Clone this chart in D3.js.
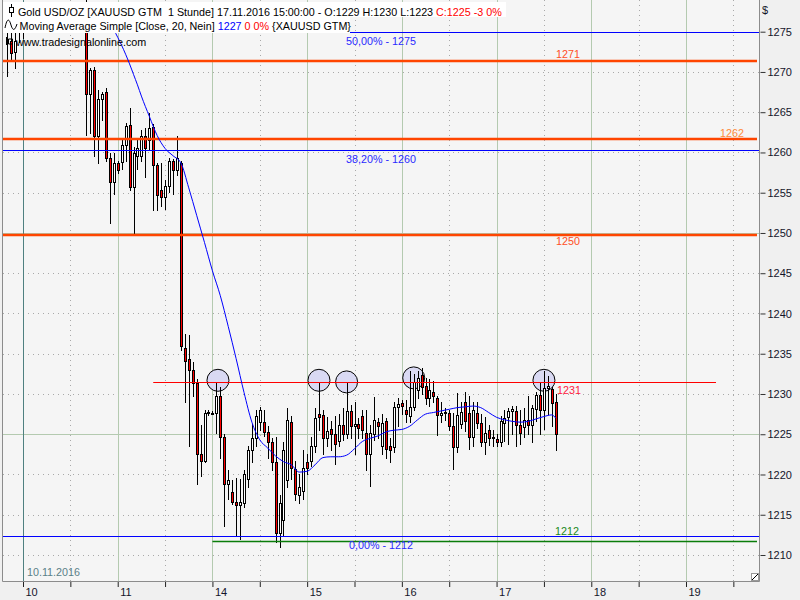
<!DOCTYPE html>
<html><head><meta charset="utf-8">
<script src="https://cdn.jsdelivr.net/npm/d3@7"></script>
<style>
html,body{margin:0;padding:0;background:#f0f0f0;}
svg{display:block;font-family:"Liberation Sans",Arial,sans-serif;}
</style></head><body>
<svg id="chart" width="800" height="600"></svg>
<script>
// ---- data (hour index: 0 = 10.11.2016 00:00, trading hours, weekend removed) ----
const hours  = [-4,-3,-2,-1,0,16,17,18,19,20,21,22,23,24,25,26,27,28,29,30,31,32,33,34,35,36,37,38,39,40,41,42,43,44,45,46,47,48,49,50,51,52,53,54,55,56,57,58,59,60,61,62,63,64,65,66,67,68,69,70,71,72,73,74,75,76,77,78,79,80,81,82,83,84,85,86,87,88,89,90,91,92,93,94,95,96,97,98,99,100,101,102,103,104,105,106,107,108,109,110,111,112,113,114,115,116,117,118,119,120,121,122,123,124,125,126,127,128,129,130,131,132,133,134,135];
const opens  = [1276.8,1273.8,1272.5,1275.2,1277.0,1278.0,1267.2,1270.3,1262.1,1266.7,1267.5,1259.3,1256.3,1258.7,1258.8,1260.9,1263.4,1255.7,1259.5,1259.6,1262.1,1261.5,1263.2,1258.4,1255.3,1254.5,1255.8,1259.0,1257.8,1258.7,1235.7,1234.3,1233.0,1231.4,1222.6,1221.7,1227.6,1227.7,1227.6,1229.8,1224.6,1218.8,1217.8,1216.6,1216.2,1216.5,1219.5,1223.0,1224.5,1226.5,1226.5,1225.3,1224.0,1221.5,1212.7,1214.3,1219.3,1226.5,1220.7,1217.5,1218.0,1221.6,1221.7,1223.6,1227.5,1227.4,1224.5,1225.6,1225.0,1224.2,1226.2,1225.0,1227.9,1226.0,1226.3,1227.3,1225.2,1222.5,1225.0,1226.5,1223.6,1226.6,1223.5,1223.4,1228.4,1228.9,1228.0,1227.3,1228.4,1230.5,1232.3,1231.0,1229.5,1230.3,1229.5,1227.4,1227.6,1227.6,1226.0,1223.4,1226.3,1229.0,1227.6,1224.6,1227.6,1226.4,1224.0,1225.5,1224.5,1224.4,1224.0,1226.4,1227.1,1227.9,1227.9,1226.2,1225.9,1226.8,1226.1,1228.1,1229.9,1228.0,1230.8,1230.6,1229.0];
const highs  = [1278.0,1276.0,1275.5,1278.5,1278.5,1279.5,1270.5,1270.6,1267.7,1267.5,1268.0,1259.9,1259.9,1258.9,1261.5,1263.6,1265.5,1260.7,1261.5,1262.8,1263.0,1264.9,1263.5,1258.7,1258.7,1256.6,1259.3,1259.2,1262.0,1259.0,1237.5,1237.3,1234.0,1231.8,1226.1,1228.0,1228.0,1227.9,1231.4,1230.9,1225.0,1220.5,1219.3,1219.6,1219.5,1220.5,1223.6,1226.3,1228.0,1228.4,1228.0,1226.0,1224.5,1224.6,1217.5,1224.0,1228.2,1227.3,1221.7,1220.0,1223.0,1222.6,1224.6,1228.3,1231.5,1228.0,1227.1,1226.7,1227.3,1227.5,1228.3,1231.4,1228.6,1229.0,1227.0,1228.0,1228.0,1226.2,1229.6,1227.0,1227.5,1227.0,1224.5,1229.0,1229.5,1229.2,1229.3,1232.9,1232.5,1232.8,1233.2,1232.0,1231.8,1231.6,1229.8,1229.0,1228.3,1228.0,1227.7,1230.1,1229.0,1230.3,1229.7,1229.0,1229.0,1227.5,1227.1,1226.2,1225.5,1225.0,1227.3,1228.0,1228.3,1228.5,1228.5,1228.0,1228.2,1229.8,1228.6,1230.3,1231.5,1232.9,1232.2,1230.9,1230.0];
const lows   = [1269.5,1271.5,1270.5,1273.7,1274.2,1262.2,1262.4,1259.5,1258.7,1264.0,1259.0,1251.2,1254.9,1257.5,1258.0,1259.0,1255.3,1250.0,1258.0,1259.0,1257.0,1260.3,1252.8,1252.8,1253.3,1253.0,1255.1,1254.9,1257.2,1235.5,1229.0,1223.6,1229.8,1218.8,1219.8,1221.5,1227.4,1227.5,1225.1,1222.0,1213.6,1217.0,1216.3,1212.4,1212.0,1216.0,1218.5,1221.5,1223.5,1225.5,1224.8,1222.0,1220.5,1211.6,1211.0,1212.5,1218.5,1219.5,1216.8,1216.4,1217.0,1220.0,1221.0,1222.8,1225.5,1222.6,1223.5,1223.1,1221.3,1223.5,1224.3,1224.5,1224.5,1222.6,1224.5,1224.5,1220.5,1218.6,1224.3,1224.5,1222.5,1222.1,1221.5,1222.8,1226.0,1227.5,1226.5,1226.5,1228.0,1229.5,1230.0,1228.8,1228.5,1229.0,1224.9,1226.5,1226.8,1225.5,1220.7,1222.8,1225.8,1225.4,1223.2,1223.5,1225.8,1223.5,1222.6,1223.7,1223.5,1223.5,1223.5,1224.2,1223.8,1225.0,1223.6,1223.8,1224.6,1225.0,1224.0,1226.7,1225.0,1225.6,1227.5,1226.0,1223.0];
const closes = [1276.0,1272.4,1273.8,1277.0,1278.0,1267.3,1270.2,1262.1,1266.6,1267.2,1259.3,1256.3,1258.7,1257.8,1260.9,1263.3,1255.7,1259.9,1260.5,1262.0,1260.5,1263.1,1258.4,1254.7,1254.5,1255.8,1259.0,1257.8,1259.3,1235.9,1234.1,1233.0,1231.4,1222.6,1221.7,1227.7,1227.8,1227.7,1229.7,1224.6,1218.8,1219.3,1216.6,1216.2,1216.6,1220.0,1223.1,1224.5,1227.3,1228.0,1225.3,1224.0,1221.5,1212.7,1216.5,1223.0,1226.8,1220.8,1217.6,1218.5,1220.8,1220.8,1223.6,1227.0,1227.1,1224.5,1225.4,1225.0,1223.8,1226.2,1225.0,1227.9,1226.0,1226.3,1225.8,1225.5,1222.6,1225.2,1226.8,1226.0,1226.4,1223.2,1223.1,1228.4,1228.7,1228.5,1227.5,1228.4,1231.5,1232.0,1230.9,1229.5,1230.5,1229.7,1227.4,1227.7,1227.8,1226.0,1223.4,1227.4,1227.8,1226.7,1224.6,1228.0,1226.4,1224.0,1225.2,1224.5,1224.7,1224.0,1226.6,1227.0,1227.9,1228.1,1226.2,1225.1,1226.8,1226.2,1228.3,1229.9,1228.0,1230.7,1231.0,1228.9,1225.0];

// Moving Average Simple (Close, 20)
const maHours  = [21,23,24,25,26,27,28,29,30,32,34,36,38,40,42,44,46,48,50,52,54,56,58,60,62,64,66,68,70,72,74,76,78,80,82,84,86,88,90,92,94,96,98,100,102,104,106,108,110,112,114,116,118,120,122,124,126,128,130,132,134,135];
const maValues = [1277.8,1275.3,1274.3,1273.3,1272.2,1271.0,1269.7,1268.4,1267.0,1264.5,1262.1,1260.5,1259.6,1258.7,1255.6,1252.2,1248.8,1245.3,1242.2,1238.4,1234.4,1230.2,1226.5,1224.3,1223.3,1222.3,1221.6,1221.2,1220.3,1220.4,1221.2,1222.1,1222.2,1222.2,1222.4,1223.2,1224.1,1224.5,1224.8,1225.3,1225.5,1225.6,1226.0,1226.8,1227.5,1227.7,1227.9,1228.1,1228.3,1228.4,1228.5,1228.3,1227.7,1227.1,1226.8,1226.6,1226.5,1226.6,1226.9,1227.2,1227.4,1227.0];

// axis ticks
const priceTicks = [1210,1215,1220,1225,1230,1235,1240,1245,1250,1255,1260,1265,1270,1275];
const dayHours  = [0,24,48,72,96,120,144,168];
const dayLabels = ["10","11","14","15","16","17","18","19"];
const halfHours = [12,36,60,84,108,132,156,180];

// drawn levels
const levelPrices = [1271.3,1261.7,1249.8];
const levelLabels = ["1271","1262","1250"];
const fibPrices = [1275,1260.3,1212.4];
const fibLabels = ["50,00% - 1275","38,20% - 1260","0,00% - 1212"];
const resistancePrice = 1231.5, resistanceLabel = "1231";
const supportPrice = 1211.8, supportLabel = "1212";
const circleHours  = [49.4,75,82,99,132];
const circlePrices = [1231.7,1231.7,1231.5,1232.0,1231.7];

// ---- layout ----
const W=800,H=600, PL=3, PR=759, PT=0, PB=581;
const FONT = '"Liberation Sans",Arial,sans-serif';
const x = d3.scaleLinear().domain([0,168]).range([23,686]);
const y = d3.scaleLinear().domain([1210,1275]).range([555,31.7]);
const py = v => Math.round(y(v))+0.5;
const px = h => Math.round(x(h))+0.5;

const svg = d3.select('#chart');
svg.append('rect').attr('width',W).attr('height',H).attr('fill','#f0f0f0');
svg.append('defs').append('clipPath').attr('id','pc')
  .append('rect').attr('x',PL).attr('y',PT).attr('width',PR-PL).attr('height',PB-PT);
svg.append('rect').attr('x',PL).attr('y',PT).attr('width',PR-PL).attr('height',PB-PT).attr('fill','#f5f5f5');
const plot = svg.append('g').attr('clip-path','url(#pc)');

// grid
plot.append('g').selectAll('line').data(priceTicks).join('line')
  .attr('x1',PL).attr('x2',PR).attr('y1',d=>py(d)).attr('y2',d=>py(d))
  .attr('stroke',d=>d%25===0?'#b4cab0':'#a9a9a9')
  .attr('stroke-dasharray',d=>d%25===0?null:'1,4');
plot.append('g').selectAll('line').data(halfHours).join('line')
  .attr('x1',d=>px(d)).attr('x2',d=>px(d)).attr('y1',PT).attr('y2',PB)
  .attr('stroke','#a9a9a9').attr('stroke-dasharray','1,4');
plot.append('g').selectAll('line').data(dayHours).join('line')
  .attr('x1',d=>px(d)).attr('x2',d=>px(d)).attr('y1',PT).attr('y2',PB)
  .attr('stroke',(d,i)=>i===0?'#4f8080':'#b4cab0');
svg.append('text').attr('x',27).attr('y',576).attr('font-size',10.75).attr('font-family',FONT)
  .attr('fill','#5a8088').text('10.11.2016');

// circles
plot.append('g').selectAll('circle').data(circleHours).join('circle')
  .attr('cx',(d)=>x(d)).attr('cy',(d,i)=>y(circlePrices[i])).attr('r',11)
  .attr('fill','#d9d9f3').attr('stroke','#000').attr('stroke-width',1);

// candles
const candles = hours.map((h,i)=>({h,o:opens[i],hi:highs[i],lo:lows[i],c:closes[i]}));
const cg = plot.append('g');
cg.selectAll('line').data(candles).join('line')
  .attr('x1',d=>px(d.h)).attr('x2',d=>px(d.h))
  .attr('y1',d=>Math.round(y(d.hi))).attr('y2',d=>Math.round(y(d.lo))+1)
  .attr('stroke','#000');
cg.selectAll('rect').data(candles).join('rect')
  .attr('x',d=>Math.round(x(d.h))-0.5)
  .attr('y',d=>Math.round(y(Math.max(d.o,d.c)))+0.5)
  .attr('width',2)
  .attr('height',d=>Math.max(1,Math.round(y(Math.min(d.o,d.c)))-Math.round(y(Math.max(d.o,d.c)))))
  .attr('fill',d=>d.c<d.o?'#ff0000':'#ffffff')
  .attr('stroke','#000');

// level lines
const lines = plot.append('g');
levelPrices.forEach(v=>{
  lines.append('line').attr('x1',PL).attr('x2',757).attr('y1',Math.round(y(v))).attr('y2',Math.round(y(v)))
    .style('stroke','#ff4500').style('stroke-width','2.5px');
});
fibPrices.forEach(v=>{
  lines.append('line').attr('x1',PL).attr('x2',PR).attr('y1',py(v)).attr('y2',py(v))
    .style('stroke','#0000ff').style('stroke-width','1px');
});
lines.append('line').attr('x1',x(33)).attr('x2',x(175.6)).attr('y1',py(resistancePrice)).attr('y2',py(resistancePrice))
  .style('stroke','#ff0000').style('stroke-width','1.2px');
lines.append('line').attr('x1',x(48)).attr('x2',757).attr('y1',py(supportPrice)).attr('y2',py(supportPrice))
  .style('stroke','#0a7d0a').style('stroke-width','1.5px');

// moving average
plot.append('path').datum(maHours.map((h,i)=>[h,maValues[i]]))
  .attr('d',d3.line().x(d=>x(d[0])).y(d=>y(d[1])).curve(d3.curveMonotoneX))
  .attr('fill','none').attr('stroke','#0000ff').attr('stroke-width',1);

// labels on lines
const lab = svg.append('g').attr('font-family',FONT).attr('font-size',10.75);
const levelColors = ['#ff4f1f','#ff8a3a','#ff4f1f'];
const levelLabelX = [568,732,568];
const levelLabelDy = [-3,-2,10];
lab.selectAll('text.lv').data(levelPrices).join('text').attr('class','lv')
  .attr('x',(d,i)=>levelLabelX[i]).attr('y',(d,i)=>Math.round(y(d))+levelLabelDy[i])
  .attr('text-anchor','middle').attr('fill',(d,i)=>levelColors[i]).text((d,i)=>levelLabels[i]);
lab.selectAll('text.fb').data(fibPrices).join('text').attr('class','fb')
  .attr('x',381).attr('y',d=>Math.round(y(d))+12.5)
  .attr('text-anchor','middle').attr('fill','#2a2aff').text((d,i)=>fibLabels[i]);
lab.append('text').attr('x',557).attr('y',Math.round(y(resistancePrice))+11.5).attr('fill','#ff2040').text(resistanceLabel);
lab.append('text').attr('x',567).attr('y',Math.round(y(supportPrice))-6).attr('text-anchor','middle').attr('fill','#1a8a1a').text(supportLabel);

// header
const hd = svg.append('g').attr('font-family',FONT).attr('font-size',10.75);
hd.append('rect').attr('x',3).attr('y',2).attr('width',503).attr('height',15).attr('fill','#fff');
hd.append('rect').attr('x',3).attr('y',17).attr('width',347).attr('height',16).attr('fill','#fff');
hd.append('line').attr('x1',11.5).attr('x2',11.5).attr('y1',4).attr('y2',17).attr('stroke','#000');
hd.append('rect').attr('x',9.5).attr('y',7.5).attr('width',4).attr('height',5).attr('fill','#fff').attr('stroke','#000');
hd.append('path').attr('d','M5,28 C7,18 9,18 11,25 C13,32 15,30 17,24').attr('fill','none').attr('stroke','#000');
const t1 = hd.append('text').attr('x',18).attr('y',15.5);
t1.append('tspan').attr('fill','#000').text('Gold USD/OZ [XAUUSD GTM\u00a0 1 Stunde] 17.11.2016 15:00:00 - O:1229 H:1230 L:1223 ');
t1.append('tspan').attr('fill','#ff0000').text('C:1225 -3 0%');
const t2 = hd.append('text').attr('x',19.5).attr('y',29.5);
t2.append('tspan').attr('fill','#000').text('Moving Average Simple [Close, 20, Nein] ');
t2.append('tspan').attr('fill','#0000ff').text('1227');
t2.append('tspan').attr('fill','#ff0000').text(' 0 0%');
t2.append('tspan').attr('fill','#000').text(' {XAUUSD GTM}');
hd.append('path').attr('d','M6.5,37 v8 M8.5,39 h4 v5 h-4 z').attr('fill','none').attr('stroke','#000');
hd.append('text').attr('x',16).attr('y',46).attr('fill','#000').text('www.tradesignalonline.com');

// frame
svg.append('path').attr('d',`M${PL-0.5},${PT} V${PB+0.5} H${PR+0.5} V${PT}`).attr('fill','none').attr('stroke','#8c8c8c');
svg.append('rect').attr('x',751.5).attr('y',573.5).attr('width',7).attr('height',7).attr('fill','#fff').attr('stroke','#999');
svg.append('line').attr('x1',752).attr('y1',580).attr('x2',758).attr('y2',574).attr('stroke','#000');

// axes
const ya = d3.axisRight(y).tickValues(priceTicks).tickSize(5).tickPadding(2).tickFormat(d3.format('d'));
svg.append('g').attr('transform',`translate(${PR+1.5},0)`).call(ya)
  .call(g=>g.select('.domain').remove())
  .call(g=>g.selectAll('text').attr('font-size',11).attr('font-family',FONT).attr('fill','#14142a'))
  .call(g=>g.selectAll('line').attr('stroke','#333'));
svg.append('text').attr('x',762).attr('y',14).attr('font-size',11).attr('font-family',FONT).attr('fill','#14142a').text('$');

const xa = d3.axisBottom(x).tickValues(dayHours.concat(halfHours)).tickSize(5)
  .tickFormat(d=>{const i=dayHours.indexOf(d); return i>=0?dayLabels[i]:'';});
svg.append('g').attr('transform',`translate(0,${PB+1})`).call(xa)
  .call(g=>g.select('.domain').remove())
  .call(g=>g.selectAll('line').attr('stroke','#222'))
  .call(g=>g.selectAll('text').attr('font-size',11).attr('font-family',FONT).attr('fill','#14142a')
     .attr('text-anchor','start').attr('x',2).attr('y',6));
</script>
</body></html>
